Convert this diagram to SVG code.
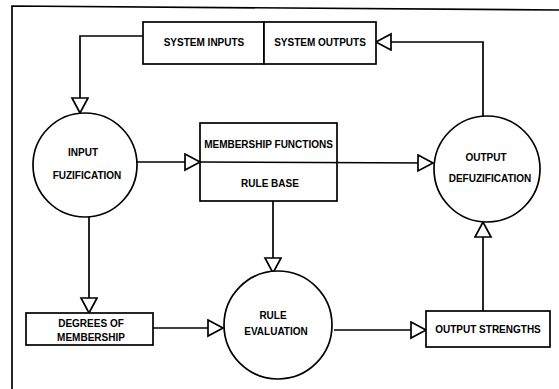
<svg xmlns="http://www.w3.org/2000/svg" width="559" height="389" viewBox="0 0 559 389">
<style>
.s{fill:#fff;stroke:#000;stroke-width:1.7}
.c{fill:none;stroke:#000;stroke-width:1.7}
text{font-family:"Liberation Sans",Arial,sans-serif;font-weight:bold;font-size:10px;fill:#000;text-anchor:middle}
</style>
<defs>
<marker id="a" markerUnits="userSpaceOnUse" markerWidth="18" markerHeight="20" refX="16" refY="9" orient="auto" viewBox="0 0 18 20">
<path d="M1,1 L16,9 L1,17 Z" fill="#fff" stroke="#000" stroke-width="1.7"/>
</marker>
</defs>
<rect width="559" height="389" fill="#fff"/>
<path d="M12,389 L12,6 L559,10" class="c" stroke-width="2.2"/>
<g id="connectors">
<path class="c" d="M143,36 H80 V113" marker-end="url(#a)"/>
<path class="c" d="M483,117 V42 H376" marker-end="url(#a)"/>
<path class="c" d="M137,162 H200" marker-end="url(#a)"/>
<path class="c" d="M200,162 L433,163" marker-end="url(#a)"/>
<path class="c" d="M273,201 V273" marker-end="url(#a)"/>
<path class="c" d="M89,217 V313" marker-end="url(#a)"/>
<path class="c" d="M153,328 H223" marker-end="url(#a)"/>
<path class="c" d="M334,330 H426" marker-end="url(#a)"/>
<path class="c" d="M483,311 V222" marker-end="url(#a)"/>
</g>
<g id="system-inputs">
<rect class="s" x="143" y="22" width="121" height="42"/>
<text x="204" y="46">SYSTEM INPUTS</text>
</g>
<g id="system-outputs">
<rect class="s" x="264" y="22" width="112" height="42"/>
<text x="320" y="46">SYSTEM OUTPUTS</text>
</g>
<g id="input-fuzification">
<circle class="s" cx="85" cy="165" r="52"/>
<text x="83" y="155.5">INPUT</text>
<text x="87" y="178.5">FUZIFICATION</text>
</g>
<g id="membership-rule-base">
<rect class="c" x="200" y="123" width="137" height="78"/>
<text x="268.5" y="147.5">MEMBERSHIP FUNCTIONS</text>
<text x="270" y="186.5">RULE BASE</text>
</g>
<g id="output-defuzification">
<circle class="s" cx="487" cy="169" r="53"/>
<text x="486" y="160.5">OUTPUT</text>
<text x="490" y="181.5">DEFUZIFICATION</text>
</g>
<g id="degrees-of-membership">
<rect class="s" x="26" y="313" width="127" height="32"/>
<text x="91" y="326.5">DEGREES OF</text>
<text x="91" y="340.5">MEMBERSHIP</text>
</g>
<g id="rule-evaluation">
<circle class="s" cx="278" cy="325" r="54"/>
<text x="273" y="318.5">RULE</text>
<text x="276" y="334.5">EVALUATION</text>
</g>
<g id="output-strengths">
<rect class="s" x="426" y="311" width="124" height="36"/>
<text x="488" y="333">OUTPUT STRENGTHS</text>
</g>
</svg>
